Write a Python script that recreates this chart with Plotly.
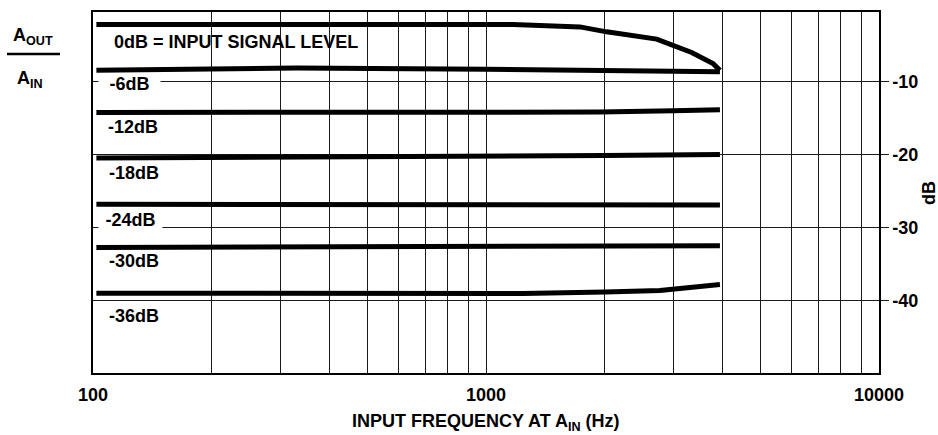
import plotly.graph_objects as go

# ---------------- data ----------------
freq_0db = [102, 1171, 1734, 2028, 2719, 3337, 3781, 3938]
amp_0db = [-2.18, -2.18, -2.49, -3.17, -4.17, -6.0, -7.5, -8.45]

freq_6db = [102, 330, 1000, 2000, 3938]
amp_6db = [-8.42, -8.12, -8.29, -8.45, -8.63]

freq_12db = [102, 1200, 1950, 3000, 3938]
amp_12db = [-14.22, -14.22, -14.17, -14.0, -13.85]

freq_18db = [102, 1000, 2000, 3938]
amp_18db = [-20.45, -20.3, -20.12, -19.98]

freq_24db = [102, 1000, 3938]
amp_24db = [-26.8, -26.85, -26.9]

freq_30db = [102, 1000, 3938]
amp_30db = [-32.72, -32.65, -32.5]

freq_36db = [102, 1240, 2010, 2770, 3938]
amp_36db = [-38.99, -39.05, -38.85, -38.62, -37.8]

x_ticks = [100, 1000, 10000]
x_ticktext = ["100", "1000", "10000"]
minor_grid_freqs = [200, 300, 400, 500, 600, 700, 800, 900,
                    2000, 3000, 4000, 5000, 6000, 7000, 8000, 9000]
y_ticks = [-10, -20, -30, -40]
y_ticktext = ["-10", "-20", "-30", "-40"]

curve_labels = ["0dB = INPUT SIGNAL LEVEL", "-6dB", "-12dB", "-18dB", "-24dB", "-30dB", "-36dB"]

# ---------------- figure ----------------
W, H = 938, 435
# plot area in page pixels
PL, PR, PT, PB = 93, 879, 10, 373
FONT = "Liberation Sans, Arial, sans-serif"
GRID = "#1a1a1a"


def px_x(px):
    return (px - PL) / (PR - PL)


def px_y(py):
    return (PB - py) / (PB - PT)


fig = go.Figure()
series = [(freq_0db, amp_0db), (freq_6db, amp_6db), (freq_12db, amp_12db),
          (freq_18db, amp_18db), (freq_24db, amp_24db), (freq_30db, amp_30db),
          (freq_36db, amp_36db)]
for fx, fy in series:
    fig.add_trace(go.Scatter(x=fx, y=fy, mode="lines",
                             line=dict(color="black", width=5),
                             showlegend=False, hoverinfo="skip"))

fig.update_layout(
    width=W, height=H,
    margin=dict(l=PL, r=W - PR, t=PT, b=H - PB),
    plot_bgcolor="white", paper_bgcolor="white",
    font=dict(family=FONT, size=18, color="black"),
    showlegend=False,
)

fig.update_xaxes(
    type="log", range=[2, 4],
    tickvals=x_ticks, ticktext=x_ticktext,
    ticks="outside", ticklen=5, tickcolor="rgba(0,0,0,0)",
    tickfont=dict(family=FONT, size=18, weight="bold"),
    showgrid=True, gridcolor=GRID, gridwidth=1.3,
    minor=dict(tickvals=minor_grid_freqs, showgrid=True, gridcolor=GRID,
               gridwidth=1.3, ticks=""),
    showline=True, linecolor="black", linewidth=1.5, mirror=True,
    zeroline=False,
)
fig.update_yaxes(
    range=[-49.94, -0.45], side="right",
    tickvals=y_ticks, ticktext=y_ticktext,
    ticks="outside", ticklen=8, tickwidth=1.3, tickcolor=GRID,
    tickfont=dict(family=FONT, size=18, weight="bold"),
    showgrid=True, gridcolor=GRID, gridwidth=1.3,
    showline=True, linecolor="black", linewidth=1.5, mirror=True,
    zeroline=False,
)

# curve labels: (left px, center y px, bg box)
label_pos = [(113, 40.5, None), (108, 82.5, (99, 160, 16)), (107, 126, None),
             (108, 171.7, None), (107, 219, (99, 162, 18)), (108, 260, None),
             (108, 316, None)]
for text, (lx, cy, box) in zip(curve_labels, label_pos):
    if box is None:
        fig.add_annotation(text=text, xref="paper", yref="paper",
                           x=px_x(lx), y=px_y(cy), xanchor="left", yanchor="middle",
                           showarrow=False, borderpad=0,
                           font=dict(family=FONT, size=18, weight="bold"))
    else:
        bx0, bx1, bh = box
        fig.add_annotation(text=text, xref="paper", yref="paper",
                           x=px_x((bx0 + bx1) / 2), y=px_y(cy),
                           xanchor="center", yanchor="middle",
                           width=bx1 - bx0, height=bh, align="center",
                           bgcolor="white", showarrow=False, borderpad=0,
                           font=dict(family=FONT, size=18, weight="bold"))

# left fraction label
fig.add_annotation(text="A<sub>OUT</sub>", xref="paper", yref="paper",
                   x=px_x(33), y=px_y(35), xanchor="center", yanchor="middle",
                   showarrow=False, borderpad=0,
                   font=dict(family=FONT, size=18, weight="bold"))
fig.add_annotation(text="A<sub>IN</sub>", xref="paper", yref="paper",
                   x=px_x(30), y=px_y(78), xanchor="center", yanchor="middle",
                   showarrow=False, borderpad=0,
                   font=dict(family=FONT, size=18, weight="bold"))
fig.add_shape(type="line", xref="paper", yref="paper",
              x0=px_x(7), x1=px_x(60), y0=px_y(52.3), y1=px_y(52.3),
              line=dict(color="black", width=2.5))

# axis titles
fig.add_annotation(text="INPUT FREQUENCY AT A<sub>IN</sub> (Hz)", xref="paper", yref="paper",
                   x=px_x(486), y=px_y(423), xanchor="center", yanchor="middle",
                   showarrow=False, borderpad=0,
                   font=dict(family=FONT, size=18, weight="bold"))
fig.add_annotation(text="dB", xref="paper", yref="paper",
                   x=px_x(929.5), y=px_y(192.5), xanchor="center", yanchor="middle",
                   textangle=-90, showarrow=False, borderpad=0,
                   font=dict(family=FONT, size=18, weight="bold"))

fig.write_html(
    "out.html",
    config={"displayModeBar": False},
    post_script="document.body.style.margin='0';document.body.style.overflow='hidden';",
)
